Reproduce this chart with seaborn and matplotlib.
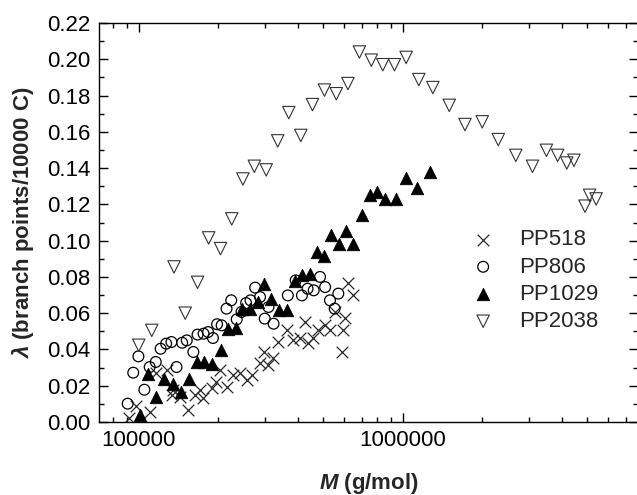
import numpy as np
import pandas as pd
import matplotlib
matplotlib.use("Agg")
import matplotlib.pyplot as plt
from matplotlib.ticker import MultipleLocator, LogLocator, NullFormatter, FixedLocator, FixedFormatter
import seaborn as sns

# PP518 (crosses)
pp518_m = [9.2e4, 9.8e4, 1.10e5, 1.16e5, 1.28e5, 1.35e5, 1.43e5, 1.54e5, 1.63e5, 1.71e5,
           1.75e5, 1.89e5, 1.97e5, 2.03e5, 2.15e5, 2.28e5, 2.42e5, 2.56e5, 2.68e5, 2.88e5,
           2.97e5, 3.09e5, 3.23e5, 3.37e5, 3.63e5, 3.84e5, 4.08e5, 4.27e5, 4.38e5, 4.57e5,
           4.77e5, 5.06e5, 5.30e5, 5.53e5, 5.88e5, 5.95e5, 6.03e5, 6.46e5, 6.20e5, 1.34e5]
pp518_l = [0.002, 0.009, 0.0057, 0.027, 0.0287, 0.0177, 0.014, 0.0066, 0.0149, 0.0177,
           0.013, 0.0186, 0.0222, 0.0287, 0.0195, 0.026, 0.027, 0.0232, 0.026, 0.0325,
           0.0388, 0.0314, 0.0353, 0.0443, 0.0507, 0.0452, 0.0463, 0.0553, 0.0436, 0.0463,
           0.0507, 0.0535, 0.0507, 0.0608, 0.0388, 0.0507, 0.0573, 0.070, 0.0768, 0.0147]

# PP806 (open circles)
pp806_m = [9.08e4, 9.53e4, 9.97e4, 1.05e5, 1.10e5, 1.16e5, 1.21e5, 1.27e5, 1.33e5, 1.39e5,
           1.46e5, 1.52e5, 1.61e5, 1.67e5, 1.76e5, 1.83e5, 1.91e5, 1.98e5, 2.06e5, 2.15e5,
           2.24e5, 2.35e5, 2.45e5, 2.55e5, 2.65e5, 2.76e5, 2.88e5, 3.00e5, 3.10e5, 3.24e5,
           3.67e5, 3.93e5, 4.15e5, 4.36e5, 4.60e5, 4.86e5, 5.08e5, 5.30e5, 5.52e5, 5.70e5]
pp806_l = [0.0101, 0.0272, 0.0362, 0.0178, 0.0303, 0.0331, 0.0404, 0.0432, 0.0441, 0.0303,
           0.0437, 0.045, 0.0386, 0.0482, 0.0487, 0.0496, 0.0463, 0.0539, 0.0533, 0.0625,
           0.0671, 0.0566, 0.0607, 0.0656, 0.0671, 0.0741, 0.0689, 0.057, 0.0634, 0.0542,
           0.0698, 0.0781, 0.0698, 0.0735, 0.0726, 0.080, 0.0744, 0.0671, 0.0625, 0.0708]

# PP1029 (filled triangles)
pp1029_m = [1.01e5, 1.08e5, 1.16e5, 1.25e5, 1.35e5, 1.45e5, 1.55e5, 1.66e5, 1.77e5, 1.90e5,
            2.04e5, 2.18e5, 2.33e5, 2.46e5, 2.64e5, 2.82e5, 2.99e5, 3.18e5, 3.40e5, 3.65e5,
            3.89e5, 4.15e5, 4.46e5, 4.72e5, 5.05e5, 5.37e5, 5.75e5, 6.10e5, 6.50e5, 7.00e5,
            7.50e5, 8.00e5, 8.60e5, 9.40e5, 1.03e6, 1.13e6, 1.27e6]
pp1029_l = [0.004, 0.0267, 0.0138, 0.0235, 0.0211, 0.0165, 0.0239, 0.0331, 0.0331, 0.0318,
            0.0395, 0.0515, 0.0518, 0.0625, 0.0625, 0.0662, 0.0763, 0.068, 0.062, 0.0616,
            0.078, 0.0813, 0.0818, 0.0938, 0.0914, 0.103, 0.098, 0.1053, 0.0983, 0.114,
            0.125, 0.1268, 0.1232, 0.1232, 0.1346, 0.129, 0.1379]

# PP2038 (open down triangles)
pp2038_m = [1.00e5, 1.12e5, 1.36e5, 1.50e5, 1.67e5, 1.84e5, 2.04e5, 2.25e5, 2.48e5, 2.74e5,
            3.04e5, 3.36e5, 3.70e5, 4.11e5, 4.55e5, 5.05e5, 5.60e5, 6.20e5, 6.85e5, 7.60e5,
            8.40e5, 9.30e5, 1.03e6, 1.15e6, 1.30e6, 1.50e6, 1.72e6, 2.00e6, 2.30e6, 2.68e6,
            3.10e6, 3.50e6, 3.86e6, 4.18e6, 4.45e6, 4.90e6, 5.10e6, 5.40e6]
pp2038_l = [0.0423, 0.0505, 0.0855, 0.060, 0.077, 0.1015, 0.0956, 0.112, 0.134, 0.141,
            0.139, 0.155, 0.1706, 0.158, 0.175, 0.183, 0.181, 0.1866, 0.204, 0.1995,
            0.197, 0.197, 0.201, 0.1888, 0.1844, 0.1746, 0.164, 0.1655, 0.1557, 0.147,
            0.141, 0.1498, 0.147, 0.1428, 0.1443, 0.119, 0.125, 0.123]

sns.set_style("ticks")
plt.rcParams["font.family"] = ["Liberation Sans", "DejaVu Sans"]
plt.rcParams["mathtext.fontset"] = "custom"
plt.rcParams["mathtext.it"] = "Liberation Sans:italic:bold"
plt.rcParams["mathtext.rm"] = "Liberation Sans:bold"

fig = plt.figure(figsize=(6.37, 4.95), dpi=100)
ax = fig.add_axes([99 / 637, 73 / 495, 539 / 637, 399 / 495])

sns.scatterplot(x=pp518_m, y=pp518_l, marker="x", color="#2a2a2a", s=70,
                linewidth=0.9, label="PP518", ax=ax, zorder=2)
sns.scatterplot(x=pp806_m, y=pp806_l, marker="o", color="black", facecolor="none",
                edgecolor="black", s=60, linewidth=0.9, label="PP806", ax=ax, zorder=3)
sns.scatterplot(x=pp1029_m, y=pp1029_l, marker="^", color="black", edgecolor="black",
                s=80, linewidth=0.6, label="PP1029", ax=ax, zorder=4)
sns.scatterplot(x=pp2038_m, y=pp2038_l, marker="v", color="black", facecolor="none",
                edgecolor="#333333", s=80, linewidth=0.8, label="PP2038", ax=ax, zorder=3)

ax.set_xscale("log")
ax.set_xlim(70700, 7.78e6)
ax.set_ylim(0, 0.22)
ax.xaxis.set_major_locator(FixedLocator([1e5, 1e6]))
ax.xaxis.set_major_formatter(FixedFormatter(["100000", "1000000"]))
ax.xaxis.set_minor_locator(LogLocator(base=10, subs=np.arange(2, 10), numticks=20))
ax.xaxis.set_minor_formatter(NullFormatter())
ax.yaxis.set_major_locator(MultipleLocator(0.02))
ax.yaxis.set_minor_locator(MultipleLocator(0.01))
ax.yaxis.set_major_formatter(plt.FormatStrFormatter("%.2f"))

for s in ax.spines.values():
    s.set_linewidth(1.0)
    s.set_color("black")
ax.tick_params(which="both", direction="in", top=True, right=True, width=1.0,
               colors="black", labelsize=16)
ax.tick_params(which="major", length=6.5, pad=6)
ax.tick_params(which="minor", length=3.6)

ax.set_xlabel("$M$ (g/mol)", fontsize=16, fontweight="bold", labelpad=14)
ax.set_ylabel("$\\lambda$ (branch points/10000 C)", fontsize=16, fontweight="bold", labelpad=8)

ax.legend(loc="upper left", bbox_to_anchor=(0.655, 0.505), frameon=False, fontsize=16,
          handletextpad=0.6, labelspacing=0.28, borderaxespad=0, scatterpoints=1)

fig.savefig("out.png", dpi=100, facecolor="white")
